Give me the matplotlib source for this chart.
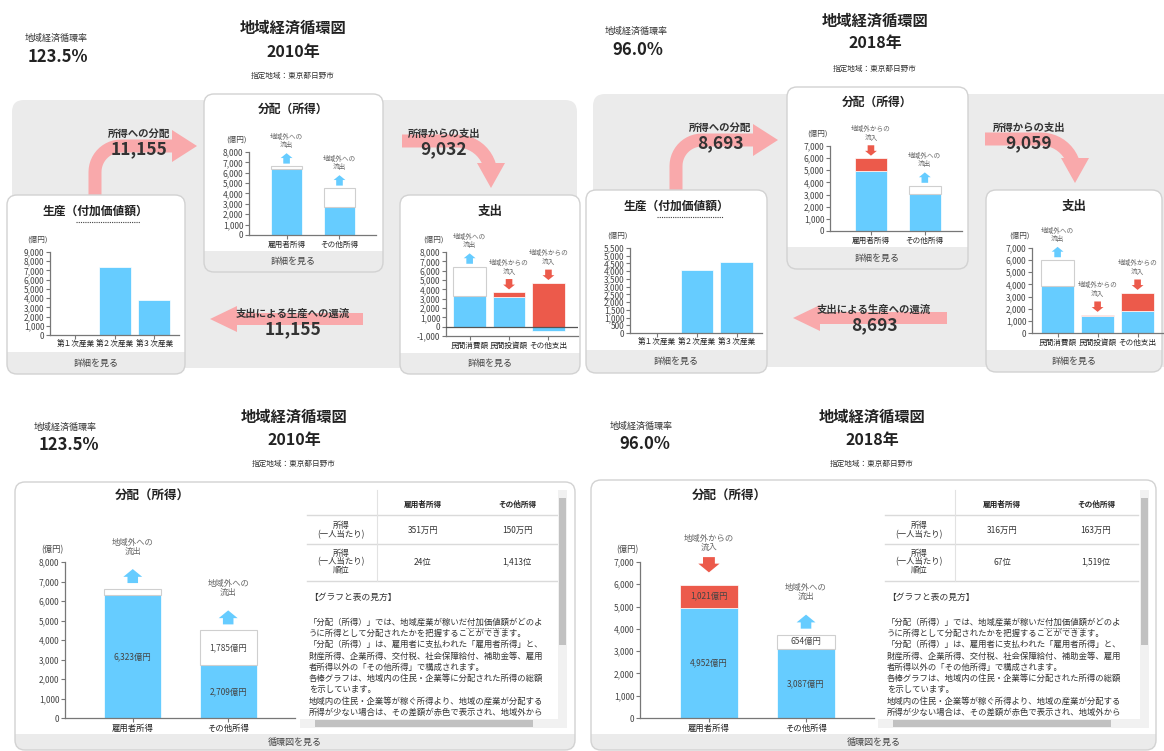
import numpy as np
import matplotlib
matplotlib.use("Agg")
import matplotlib.pyplot as plt
from matplotlib.patches import FancyBboxPatch, Rectangle, Polygon
from matplotlib.ticker import FuncFormatter
from matplotlib.transforms import offset_copy

plt.rcParams["font.family"] = ["Noto Sans CJK JP", "DejaVu Sans"]

W, H = 1164, 751

# ---- data (億円) ----
years = ["2010年", "2018年"]
circ_rates = ["123.5%", "96.0%"]
area = "指定地域：東京都日野市"

prod_cats = ["第１次産業", "第２次産業", "第３次産業"]
prod_2010 = [20, 7340, 3795]
prod_2018 = [15, 4060, 4618]

dist_cats = ["雇用者所得", "その他所得"]
dist_in_2010 = [6323, 2709]
dist_out_2010 = [290, 1785]
dist_inflow_2010 = [0, 0]
dist_in_2018 = [4952, 3087]
dist_out_2018 = [0, 654]
dist_inflow_2018 = [1021, 0]

exp_cats = ["民間消費額", "民間投資額", "その他支出"]
exp_in_2010 = [3260, 3190, -510]
exp_out_2010 = [3180, 0, 0]
exp_inflow_2010 = [0, 500, 4700]
exp_in_2018 = [3900, 1370, 1785]
exp_out_2018 = [2110, 0, 0]
exp_inflow_2018 = [0, 140, 1535]

flow_names = ["所得への分配", "所得からの支出", "支出による生産への還流"]
flows_2010 = ["11,155", "9,032", "11,155"]
flows_2018 = ["8,693", "9,059", "8,693"]

table_cols = ["雇用者所得", "その他所得"]
table_rows = ["所得\n(一人当たり)", "所得\n(一人当たり)\n順位"]
table_2010 = [["351万円", "150万円"], ["24位", "1,413位"]]
table_2018 = [["316万円", "163万円"], ["67位", "1,519位"]]

guide_title = "【グラフと表の見方】"
guide_lines = [
    "「分配（所得）」では、地域産業が稼いだ付加価値額がどのよ",
    "うに所得として分配されたかを把握することができます。",
    "「分配（所得）」は、雇用者に支払われた「雇用者所得」と、",
    "財産所得、企業所得、交付税、社会保障給付、補助金等、雇用",
    "者所得以外の「その他所得」で構成されます。",
    "各棒グラフは、地域内の住民・企業等に分配された所得の総額",
    "を示しています。",
    "地域内の住民・企業等が稼ぐ所得より、地域の産業が分配する",
    "所得が少ない場合は、その差額が赤色で表示され、地域外から",
]

BLUE = "#66ccff"
RED = "#ec5a4b"
PINK = "#f9a9ab"
BG = "#ebebeb"
BAR = "#ebebeb"
EDGE = "#d2d2d2"
DARK = "#222222"

fig = plt.figure(figsize=(W / 100, H / 100), dpi=100)
cv = fig.add_axes([0, 0, 1, 1])
cv.set_xlim(0, W)
cv.set_ylim(H, 0)
cv.axis("off")


def chart_ax(x0, x1, y0, y1):
    return fig.add_axes([x0 / W, 1 - y1 / H, (x1 - x0) / W, (y1 - y0) / H])


def card(x0, y0, x1, y1, bar_top, label, fs=6.5):
    p = FancyBboxPatch((x0, y0), x1 - x0, y1 - y0, boxstyle="round,pad=0,rounding_size=10",
                       fc="white", ec="none", zorder=2)
    cv.add_patch(p)
    r = Rectangle((x0, bar_top), x1 - x0, y1 - bar_top, fc=BAR, ec="none", zorder=2.1)
    cv.add_patch(r)
    r.set_clip_path(p)
    cv.add_patch(FancyBboxPatch((x0, y0), x1 - x0, y1 - y0, boxstyle="round,pad=0,rounding_size=10",
                                fc="none", ec=EDGE, lw=1, zorder=2.2))
    cv.text((x0 + x1) / 2, (bar_top + y1) / 2, label, ha="center", va="center",
            fontsize=fs, color="#444", zorder=3)


def header(rate_xy, title_xy, year, rate):
    lx, ly, rx, ry = rate_xy
    cx, ty, yy, ay = title_xy
    cv.text(lx, ly, "地域経済循環率", ha="left", va="center", fontsize=6.5, color="#333")
    cv.text(rx, ry, rate, ha="left", va="center", fontsize=12, fontweight="bold", color=DARK)
    cv.text(cx, ty, "地域経済循環図", ha="center", va="center", fontsize=11, fontweight="bold", color=DARK)
    cv.text(cx, yy, year, ha="center", va="center", fontsize=11.5, fontweight="bold", color=DARK)
    cv.text(cx, ay, area, ha="center", va="center", fontsize=5.5, color="#333")


def pink_arrow(pts, tail=13, head=30, head_len=25):
    pts = np.asarray(pts, float)
    tip = pts[-1]
    d = tip - pts[-2]
    d = d / np.hypot(*d)
    base = tip - d * head_len
    line = np.vstack([pts[:-1], base])
    seg = np.diff(line, axis=0)
    seg = seg / np.hypot(seg[:, 0], seg[:, 1])[:, None]
    tan = np.vstack([seg[:1], seg[:-1] + seg[1:], seg[-1:]])
    tan = tan / np.hypot(tan[:, 0], tan[:, 1])[:, None]
    nrm = np.column_stack([-tan[:, 1], tan[:, 0]])
    n = np.array([-d[1], d[0]])
    poly = np.vstack([line + nrm * tail / 2,
                      [base + n * head / 2, tip, base - n * head / 2],
                      (line - nrm * tail / 2)[::-1]])
    cv.add_patch(Polygon(poly, closed=True, fc=PINK, ec="none", zorder=1))


def up_right(x0, y0, x1, y1, r):
    t = np.linspace(0, np.pi / 2, 14)
    arc = np.column_stack([x0 + r - r * np.cos(t), y1 + r - r * np.sin(t)])
    return np.vstack([[x0, y0], arc, [x1, y1]])


def right_down(x0, y0, x1, y1, r):
    t = np.linspace(0, np.pi / 2, 14)
    arc = np.column_stack([x1 - r + r * np.sin(t), y0 + r - r * np.cos(t)])
    return np.vstack([[x0, y0], arc, [x1, y1]])


def flow_text(x, y, name, value):
    cv.text(x, y, name, ha="center", va="center", fontsize=7.5, fontweight="bold", color="#333", zorder=4)
    cv.text(x, y + 15, value, ha="center", va="center", fontsize=12.5, fontweight="bold", color="#333", zorder=4)


def style_ax(ax, lo, hi, step, xlim, fs=6, cfs=5.5):
    ax.set_facecolor("none")
    ax.set_ylim(lo, hi)
    ax.set_xlim(*xlim)
    ax.set_yticks(np.arange(lo, hi + 1, step))
    ax.yaxis.set_major_formatter(FuncFormatter(lambda v, p: f"{v:,.0f}"))
    for s in ("top", "right"):
        ax.spines[s].set_visible(False)
    for s in ("left", "bottom"):
        ax.spines[s].set_color("#777")
        ax.spines[s].set_linewidth(0.9)
    ax.tick_params(axis="y", length=3, width=0.8, color="#777", labelsize=fs, labelcolor="#444", pad=1)
    ax.tick_params(axis="x", length=3, width=0.8, color="#777", labelsize=cfs, labelcolor="#222", pad=1)
    if lo < 0:
        ax.axhline(0, color="#555", lw=0.9, zorder=3)
    ax.annotate("(億円)", xy=(0, 1), xycoords="axes fraction", xytext=(-9, 9),
                textcoords="offset points", ha="center", va="center", fontsize=cfs, color="#444")


def flow_mark(ax, x, top, inflow, big):
    if big:
        a0, a1, ms, fs, ty = (9, 20, 9, 6, 24) if inflow else (4.3, 14.4, 8, 6, 24)
    else:
        a0, a1, ms, fs, ty = 2, 9.5, 5, 4.8, 12.5
    lo = offset_copy(ax.transData, fig=fig, x=0, y=a0, units="points")
    hi = offset_copy(ax.transData, fig=fig, x=0, y=a1, units="points")
    tip, tail = (lo, hi) if inflow else (hi, lo)
    color = RED if inflow else BLUE
    ax.annotate("", xy=(x, top), xycoords=tip, xytext=(x, top), textcoords=tail,
                arrowprops=dict(arrowstyle="simple,head_length=0.7,head_width=1.7,tail_width=0.95",
                                mutation_scale=ms, fc=color, ec="none", shrinkA=0, shrinkB=0),
                annotation_clip=False)
    text = "地域外からの\n流入" if inflow else "地域外への\n流出"
    ax.annotate(text, xy=(x, top), xytext=(0, ty), textcoords="offset points", ha="center",
                va="bottom", fontsize=fs, color="#666", linespacing=1.0, annotation_clip=False)


def stacked(ax, cats, inside, out, inflow, width, big=False):
    x = np.arange(len(cats))
    inside = np.asarray(inside, float)
    out = np.asarray(out, float)
    inflow = np.asarray(inflow, float)
    base = np.maximum(inside, 0)
    ax.bar(x, inside, width, color=BLUE, edgecolor="white", linewidth=0.5, zorder=2)
    m = out > 0
    ax.bar(x[m], out[m], width, bottom=base[m], color="white", edgecolor="#cfcfcf", linewidth=0.8, zorder=2)
    m = inflow > 0
    ax.bar(x[m], inflow[m], width, bottom=base[m], color=RED, edgecolor="white", linewidth=0.5, zorder=2)
    top = base + out + inflow
    for i in range(len(cats)):
        if inflow[i] > 0:
            flow_mark(ax, x[i], top[i], True, big)
        elif out[i] > 0:
            flow_mark(ax, x[i], top[i], False, big)
        if big:
            segs = [(inside[i] / 2, inside[i]), (base[i] + out[i] / 2, out[i]),
                    (base[i] + inflow[i] / 2, inflow[i])]
            for yv, v in segs:
                if v >= 500:
                    ax.text(x[i], yv, f"{v:,.0f}億円", ha="center", va="center", fontsize=6, color="#444", zorder=3)
    ax.set_xticks(x, cats)


# ---------------- top panels ----------------
top_layout = [
    dict(rate=(25, 38, 28, 57), title=(293, 28, 52, 76), bg=(12, 100, 577, 368),
         dist_card=(204, 94, 383, 272, 251), dist_ax=(249, 376, 152, 235), dist_lim=(0, 8000, 1000),
         dist_xlim=(-0.71, 1.69),
         prod_card=(7, 195, 185, 374, 352), prod_ul=(76, 140, 222), prod_ax=(50, 179, 252, 335),
         prod_lim=(0, 9000, 1000), prod_xlim=(-0.64, 2.62),
         exp_card=(400, 195, 580, 374, 353), exp_ax=(446, 578, 252, 336), exp_lim=(-1000, 8000, 1000),
         exp_xlim=(-0.6, 2.75),
         arrows=[up_right(95, 200, 197, 146, 26), right_down(402, 141, 491, 188, 34),
                 np.array([[363, 319], [210, 319]])],
         heads=[(13, 32, 25), (13, 28, 25), (12, 26, 27)],
         labels=[(139, 134), (444, 134), (293, 314)]),
    dict(rate=(605, 31, 612, 50), title=(875, 21, 43, 69), bg=(593, 94, 1185, 367),
         dist_card=(787, 87, 968, 269, 247), dist_ax=(830, 962, 146, 231), dist_lim=(0, 7000, 1000),
         dist_xlim=(-0.76, 1.69),
         prod_card=(586, 190, 767, 373, 350), prod_ul=(657, 723, 217), prod_ax=(630, 762, 248, 333),
         prod_lim=(0, 5500, 500), prod_xlim=(-0.68, 2.64),
         exp_card=(986, 190, 1162, 372, 350), exp_ax=(1032, 1164, 248, 333), exp_lim=(0, 7000, 1000),
         exp_xlim=(-0.64, 2.66),
         arrows=[up_right(676, 200, 778, 140, 26), right_down(985, 139, 1075, 183, 34),
                 np.array([[947, 318], [793, 318]])],
         heads=[(13, 32, 25), (13, 28, 25), (12, 26, 27)],
         labels=[(720, 128), (1029, 128), (874, 310)]),
]
top_data = [
    (prod_2010, dist_in_2010, dist_out_2010, dist_inflow_2010, exp_in_2010, exp_out_2010, exp_inflow_2010, flows_2010),
    (prod_2018, dist_in_2018, dist_out_2018, dist_inflow_2018, exp_in_2018, exp_out_2018, exp_inflow_2018, flows_2018),
]

for k, L in enumerate(top_layout):
    prod, d_in, d_out, d_inf, e_in, e_out, e_inf, flows = top_data[k]
    header(L["rate"], L["title"], years[k], circ_rates[k])
    bx0, by0, bx1, by1 = L["bg"]
    cv.add_patch(FancyBboxPatch((bx0, by0), bx1 - bx0, by1 - by0, boxstyle="round,pad=0,rounding_size=12",
                                fc=BG, ec="none", zorder=0))
    for pts, (tw, hw, hl) in zip(L["arrows"], L["heads"]):
        pink_arrow(pts, tw, hw, hl)
    for (x, y), name, v in zip(L["labels"], flow_names, flows):
        flow_text(x, y, name, v)

    # 分配（所得）
    x0, y0, x1, y1, bt = L["dist_card"]
    card(x0, y0, x1, y1, bt, "詳細を見る")
    cv.text((x0 + x1) / 2, y0 + 15, "分配（所得）", ha="center", va="center", fontsize=8.5,
            fontweight="bold", color=DARK, zorder=3)
    ax = chart_ax(*L["dist_ax"])
    style_ax(ax, *L["dist_lim"], L["dist_xlim"], fs=6, cfs=5.5)
    stacked(ax, dist_cats, d_in, d_out, d_inf, 0.6)

    # 生産（付加価値額）
    x0, y0, x1, y1, bt = L["prod_card"]
    card(x0, y0, x1, y1, bt, "詳細を見る")
    cv.text((x0 + x1) / 2, y0 + 16, "生産（付加価値額）", ha="center", va="center", fontsize=8.5,
            fontweight="bold", color=DARK, zorder=3)
    ux0, ux1, uy = L["prod_ul"]
    cv.plot([ux0, ux1], [uy, uy], ls=(0, (1, 1)), color="#444", lw=0.8, zorder=3)
    ax = chart_ax(*L["prod_ax"])
    style_ax(ax, *L["prod_lim"], L["prod_xlim"], fs=6, cfs=5.5)
    ax.bar(np.arange(len(prod_cats)), prod, 0.81, color=BLUE, edgecolor="white", linewidth=0.5, zorder=2)
    ax.set_xticks(np.arange(len(prod_cats)), prod_cats)

    # 支出
    x0, y0, x1, y1, bt = L["exp_card"]
    card(x0, y0, x1, y1, bt, "詳細を見る")
    cv.text((x0 + x1) / 2, y0 + 16, "支出", ha="center", va="center", fontsize=9,
            fontweight="bold", color=DARK, zorder=3)
    ax = chart_ax(*L["exp_ax"])
    style_ax(ax, *L["exp_lim"], L["exp_xlim"], fs=6, cfs=5.5)
    stacked(ax, exp_cats, e_in, e_out, e_inf, 0.82)

# ---------------- bottom panels ----------------
bottom_layout = [
    dict(rate=(34, 427, 39, 445), title=(294, 417, 440, 464), card=(15, 482, 575, 750, 734),
         ctitle=(152, 496), ax=(65, 295, 562, 718), lim=(0, 8000, 1000),
         tab=(307, 377, 557, 341, 423, 517), guide_x=309, vs=(558, 567), hs=(300, 315, 533)),
    dict(rate=(610, 426, 619, 444), title=(872, 417, 440, 464), card=(591, 480, 1156, 750, 734),
         ctitle=(729, 496), ax=(640, 874, 562, 718), lim=(0, 7000, 1000),
         tab=(885, 955, 1138, 919, 1002, 1096), guide_x=887, vs=(1140, 1149), hs=(878, 893, 1111)),
]
bottom_data = [
    (dist_in_2010, dist_out_2010, dist_inflow_2010, table_2010),
    (dist_in_2018, dist_out_2018, dist_inflow_2018, table_2018),
]

for k, L in enumerate(bottom_layout):
    d_in, d_out, d_inf, tab = bottom_data[k]
    header(L["rate"], L["title"], years[k], circ_rates[k])
    x0, y0, x1, y1, bt = L["card"]
    card(x0, y0, x1, y1, bt, "循環図を見る", fs=6.5)
    cx, cy = L["ctitle"]
    cv.text(cx, cy, "分配（所得）", ha="center", va="center", fontsize=9, fontweight="bold",
            color=DARK, zorder=3)
    ax = chart_ax(*L["ax"])
    style_ax(ax, *L["lim"], (-0.71, 1.70), fs=6, cfs=6)
    stacked(ax, dist_cats, d_in, d_out, d_inf, 0.6, big=True)

    # table
    tl, tdiv, tr, lab_x, c1, c2 = L["tab"]
    for yl in (515, 544, 581):
        cv.plot([tl, tr], [yl, yl], color="#dadada", lw=1, zorder=3)
    cv.plot([tdiv, tdiv], [490, 581], color="#e2e2e2", lw=0.8, zorder=3)
    for cxx, name in zip((c1, c2), table_cols):
        cv.text(cxx, 504, name, ha="center", va="center", fontsize=5.5, fontweight="bold", color=DARK, zorder=4)
    for ry, rname, vals in zip((530, 562), table_rows, tab):
        cv.text(lab_x, ry, rname, ha="center", va="center", fontsize=6, color="#333",
                linespacing=0.95, zorder=4)
        for cxx, v in zip((c1, c2), vals):
            cv.text(cxx, ry, v, ha="center", va="center", fontsize=6, color="#333", zorder=4)

    gx = L["guide_x"]
    cv.text(gx, 597, guide_title, ha="left", va="center", fontsize=6.3, color="#333", zorder=4)
    for i, line in enumerate(guide_lines):
        cv.text(gx, 622 + 11.3 * i, line, ha="left", va="center", fontsize=6, color="#333", zorder=4)
    cv.plot([gx + 157, gx + 199], [628, 628], ls=(0, (1, 1)), color="#555", lw=0.6, zorder=4)

    # scrollbars
    vx0, vx1 = L["vs"]
    cv.add_patch(Rectangle((vx0, 490), vx1 - vx0, 238, fc="#f1f1f1", ec="none", zorder=3))
    cv.add_patch(Rectangle((vx0 + 1, 498), vx1 - vx0 - 2, 147, fc="#c1c1c1", ec="none", zorder=3.1))
    hx0, th0, th1 = L["hs"]
    cv.add_patch(Rectangle((hx0, 719), vx0 - hx0, 9, fc="#f1f1f1", ec="none", zorder=4.5))
    cv.add_patch(Rectangle((th0, 720), th1 - th0, 7, fc="#c1c1c1", ec="none", zorder=4.6))

fig.savefig("out.png", dpi=100)
